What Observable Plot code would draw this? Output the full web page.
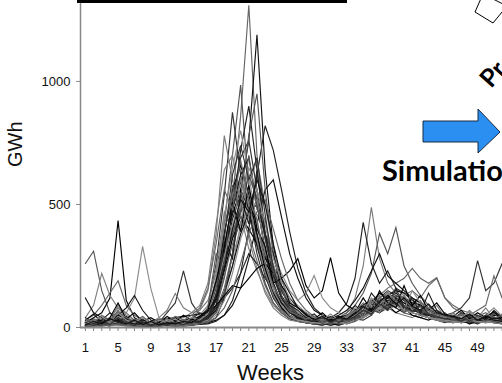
<!DOCTYPE html>
<html>
<head>
<meta charset="utf-8">
<script src="https://cdn.jsdelivr.net/npm/d3@7"></script>
<script src="https://cdn.jsdelivr.net/npm/@observablehq/plot@0.6"></script>
<style>
  html, body { margin: 0; padding: 0; background: #fff; }
  #wrap { position: relative; width: 502px; height: 383px; overflow: hidden; }
  #wrap svg.overlay { position: absolute; left: 0; top: 0; pointer-events: none; }
</style>
</head>
<body>
<div id="wrap"></div>
<script>
// ---- data: simulated weekly energy (GWh), one array per simulation run (weeks 1..52)
const run01 = [10,15,8,20,12,5,8,10,6,12,8,5,10,15,20,35, 90,250,520,860,1310,700,380,210,120,70,40,25, 20,15,10,18,25, 40,60,90,120,80,110,70,60,90,50,40,30, 25,30,20,35,40,30,25];
const run02 = [5,8,12,6,30,15,10,5,8,4,10,12,6,8,15,20, 40,120,300,560,760,1190,640,330,170,90,50,30, 20,25,15,10,20, 30,50,70,100,140,90,120,80,60,50,70,40, 30,20,45,30,25,60,40];
const run03 = [20,35,25,15,60,40,20,10,12,8,15,10,12,20,30,60, 180,420,700,985,560,420,260,150,80,45,30,20, 15,10,20,30,15, 25,45,80,60,90,150,110,70,60,40,35,50, 20,30,15,25,35,20,30];
const run04 = [8,10,15,12,25,20,10,8,15,10,12,8,15,25,40,80, 260,540,875,620,480,300,180,100,60,35,25,20, 15,12,18,10,20, 35,30,50,90,120,80,60,90,70,40,30,25, 35,20,30,15,45,25,20];
const run05 = [30,20,40,25,90,50,30,20,15,10,20,30,25,40,70,150, 380,780,600,460,320,230,150,90,60,40,30,25, 20,30,15,25,20, 40,55,70,100,80,60,50,40,60,80,50,35, 30,25,40,20,30,45,25];
const run06 = [5,6,8,10,15,8,6,5,4,6,8,5,6,10,12,15, 25,50,110,220,400,620,820,720,560,390,240,140, 80,50,35,25,20, 30,40,60,85,110,130,120,100,90,70,55,40, 30,25,20,25,30,20,15];
const run07 = [260,310,150,60,40,25,15,10,8,12,6,10,8,12,20,30, 70,160,300,480,620,520,300,180,100,60,40,30, 20,15,25,20,30, 50,80,110,90,70,100,60,50,40,60,45,30, 25,30,20,40,25,30,20];
const run08 = [20,40,60,120,435,110,40,20,12,8,10,12,15,20,30,50, 150,320,460,560,480,340,220,130,70,40,25,20, 15,20,10,15,25, 40,60,80,70,90,60,80,50,40,30,45,25, 20,35,15,25,20,30,25];
const run09 = [15,10,20,30,40,60,120,330,160,40,20,15,10,20,25,35, 60,130,250,420,580,680,500,310,170,90,50,30, 25,20,15,30,20, 30,50,60,90,120,160,130,90,70,60,40,30, 40,25,30,20,35,25,30];
const run10 = [10,12,8,15,20,10,8,12,15,20,60,100,230,100,50,70, 140,260,380,470,520,420,290,170,90,50,30,20, 15,10,20,15,25, 30,45,70,60,80,100,70,90,60,40,30,20, 30,20,25,15,30,20,25];
const run11 = [40,90,220,130,80,40,20,15,10,12,20,15,18,25,40,70, 200,390,540,610,500,360,230,140,80,50,35,25, 20,25,30,40,60, 120,250,488,280,180,140,110,90,70,60,40,30, 25,20,30,25,20,30,20];
const run12 = [12,10,15,20,35,25,12,10,8,10,12,10,15,20,25,45, 120,280,440,540,460,330,210,120,70,45,35,30, 25,30,40,60,100, 200,427,260,180,230,160,140,110,90,70,50,40, 30,25,35,20,25,30,20];
const run13 = [8,15,10,12,18,12,10,8,12,10,8,12,15,18,22,30, 80,200,370,500,620,530,360,210,120,70,45,30, 25,20,30,40,60, 90,140,220,382,300,406,250,180,130,90,60,40, 35,30,25,40,30,25,35];
const run14 = [20,15,25,30,50,35,20,15,12,10,15,20,25,30,45,60, 110,230,360,450,400,340,280,240,200,230,280,170, 120,150,284,140,90, 70,90,110,80,100,120,90,70,60,80,50,40, 30,35,25,30,40,25,30];
const run15 = [6,8,10,8,12,10,8,6,8,10,12,8,10,15,20,30, 60,150,290,400,480,460,380,300,220,150,110,140, 211,120,80,60,50, 60,80,100,140,120,100,130,90,70,60,50,40, 35,40,30,25,35,30,25];
const run16 = [10,12,15,10,20,15,12,10,8,10,12,15,10,20,30,50, 130,300,480,590,520,380,240,150,80,50,30,25, 20,15,20,25,30, 40,60,90,120,150,130,110,90,80,70,60,50, 60,80,120,272,150,180,260];
const run17 = [15,20,12,18,25,20,15,12,10,8,12,15,20,25,30,40, 90,210,340,430,480,420,310,200,120,70,40,30, 25,30,35,40,50, 60,80,110,130,160,180,200,240,200,180,203,120, 90,70,60,50,40,60,50];
const run18 = [5,8,6,10,12,8,6,5,6,8,10,8,10,12,15,20, 30,50,90,160,280,420,560,600,450,300,200,120, 70,50,40,30,35, 45,60,80,100,130,150,140,120,100,80,60,45, 40,30,35,45,30,25,30];
const run19 = [20,30,25,40,80,60,30,20,15,20,25,30,40,60,90,180, 420,640,700,520,360,240,140,80,50,30,25,20, 15,20,15,25,20, 30,40,60,80,100,90,70,60,50,40,30,25, 20,25,30,20,25,20,15];
const run20 = [10,15,20,25,30,20,15,10,12,15,20,25,30,35,40,50, 80,120,160,220,300,260,200,150,100,70,50,40, 30,25,30,35,40, 50,70,90,110,130,120,100,80,70,60,50,40, 35,30,40,35,30,40,35];
const run21 = [12,8,10,15,25,15,10,8,10,12,15,10,12,18,25,40, 160,380,560,660,540,380,240,140,80,50,30,20, 15,20,25,20,30, 40,70,100,140,120,90,80,70,90,60,40,30, 25,30,20,35,25,30,25];
const run22 = [8,10,12,8,15,10,8,12,10,8,10,12,8,10,15,25, 50,110,220,360,450,560,430,290,170,100,60,40, 30,25,20,30,35, 50,70,90,80,110,140,120,100,80,60,50,40, 35,25,30,40,30,35,25];
const run23 = [15,12,18,20,30,20,15,12,10,12,15,12,15,20,30,45, 130,320,520,690,760,560,360,210,120,70,40,30, 20,25,20,15,25, 40,60,80,100,90,110,80,70,60,50,40,30, 25,20,30,25,35,20,30];
const run24 = [30,50,90,140,190,90,50,30,20,15,12,15,20,25,40,70, 170,300,400,450,380,270,170,100,60,40,30,25, 20,25,15,20,30, 45,60,70,90,80,100,80,60,50,40,35,30, 25,30,35,25,20,25,20];
const run25 = [120,60,40,30,50,80,130,70,30,20,15,20,25,30,35,40, 70,140,250,380,470,500,380,250,150,90,55,35, 25,20,30,25,20, 35,50,80,110,90,120,100,80,70,50,40,30, 30,25,20,30,25,30,20];
const run26 = [10,15,12,18,20,15,10,12,20,40,70,138,80,60,70,110, 220,420,540,600,500,350,220,130,70,40,30,20, 15,20,25,20,15, 30,45,60,80,100,90,70,60,50,40,30,25, 20,25,30,20,25,20,25];
const run27 = [8,10,12,15,20,12,10,8,10,8,12,10,15,20,25,35, 90,240,480,720,900,640,380,220,120,70,40,30, 20,15,20,25,20, 30,50,70,90,110,100,80,70,60,50,40,30, 25,30,20,25,30,25,20];
const run28 = [5,8,6,10,15,10,8,6,8,10,8,6,10,12,18,25, 60,140,300,520,780,950,560,300,160,90,50,30, 20,18,15,20,25, 35,50,70,100,120,110,90,80,70,55,40,30, 30,25,35,20,30,25,30];
const run29 = [20,25,30,35,40,30,25,20,25,30,35,40,45,50,55,60, 90,130,170,160,200,240,260,220,170,120,80,60, 40,35,30,40,50, 70,90,110,100,120,140,120,100,90,70,60,50, 45,40,50,45,40,50,45];
const run30 = [10,12,8,15,25,15,10,8,12,10,15,12,18,25,35,60, 200,450,650,800,620,420,260,150,90,50,30,25, 20,15,25,20,18, 30,40,60,80,70,90,70,60,50,40,35,30, 25,20,30,25,20,30,20];
const run31 = [8,6,10,12,10,8,6,8,10,12,10,8,12,15,18,22, 40,80,150,260,380,470,520,400,280,180,110,70, 45,35,30,35,45, 60,80,100,120,140,110,130,150,120,170,200,120, 80,60,50,70,90,210,120];
const run32 = [15,12,10,20,30,25,15,12,10,12,15,20,18,22,30,50, 140,300,480,620,690,500,320,180,100,60,40,30, 25,30,35,50,70, 110,160,230,300,210,180,150,120,100,80,60,45, 40,35,30,40,35,30,25];
const run33 = [25,10,35,15,45,20,30,10,25,15,35,20,30,25,50,90, 240,470,390,610,450,520,300,260,140,110,60,45, 30,50,20,40,25, 70,40,110,60,150,90,130,70,110,60,90,40, 60,30,70,40,80,35,55];
const run34 = [40,15,30,60,20,45,15,35,10,30,15,40,20,35,60,40, 110,350,280,540,420,640,380,300,150,90,70,40, 55,25,45,20,40, 90,60,140,100,70,160,80,120,60,140,70,50, 35,60,25,50,30,70,40];
const run35 = [5,30,10,25,70,15,35,10,20,5,25,10,30,15,35,80, 300,250,580,460,700,480,440,220,160,70,50,30, 40,15,35,25,45, 30,90,50,110,80,130,60,100,50,80,40,60, 30,50,20,45,25,55,35];
const run36 = [30,55,20,40,100,35,60,25,40,20,45,25,50,30,45,70, 190,330,510,390,580,400,330,180,200,100,80,50, 35,60,30,45,35, 60,120,70,150,100,80,170,90,130,70,100,55, 45,70,35,60,40,65,30];
const run37 = [15,25,45,20,60,30,20,40,15,30,20,35,15,40,30,55, 150,290,420,500,650,560,420,280,190,120,90,60, 40,30,55,30,40, 80,60,120,90,140,110,70,150,100,80,60,45, 55,40,65,35,50,80,45];
const run38 = [20,8,25,12,40,18,8,22,10,18,8,20,12,28,18,45, 130,360,620,740,600,690,460,240,130,80,45,35, 25,40,20,35,30, 45,70,55,95,75,115,85,65,90,55,45,35, 40,25,45,30,50,40,30];
const run39 = [35,20,50,30,65,40,25,45,20,35,25,45,30,50,80,160, 340,560,480,680,520,440,260,170,110,65,50,35, 45,25,40,30,50, 65,100,80,125,95,145,115,80,105,70,55,45, 35,55,30,45,60,35,50];
const run40 = [10,25,15,35,25,15,30,12,25,10,20,15,25,20,40,65, 120,240,400,520,470,600,500,340,200,140,80,55, 30,45,25,40,35, 55,85,65,105,130,95,120,85,70,95,60,50, 45,35,55,30,45,35,40];

const runs = [run01,run02,run03,run04,run05,run06,run07,run08,run09,run10,run11,run12,run13,run14,run15,run16,
              run17,run18,run19,run20,run21,run22,run23,run24,run25,run26,run27,run28,run29,run30,run31,run32,
              run33,run34,run35,run36,run37,run38,run39,run40];

// axis ticks
const weekTicks = d3.range(1, 53);
const weekLabels = [1,5,9,13,17,21,25,29,33,37,41,45,49];
const gwhTicks = [0, 500, 1000];

const rows = runs.flatMap((vals, i) => vals.map((v, j) => ({run: "r" + i, week: j + 1, gwh: v})));

const palette = ["#666666","#111111","#7d7d7d","#222222","#555555","#000000","#8c8c8c","#333333"];

const xDomain = [0.4, 52.05];
const yDomain = [0, 1329];

const chart = Plot.plot({
  width: 502,
  height: 383,
  marginLeft: 80,
  marginRight: 0,
  marginTop: 0,
  marginBottom: 56,
  style: {fontFamily: "Liberation Sans, Arial, sans-serif", background: "#fff", overflow: "visible"},
  x: {domain: xDomain},
  y: {domain: yDomain},
  color: {type: "ordinal", range: palette},
  marks: [
    Plot.line(rows, {x: "week", y: "gwh", z: "run", stroke: "run", strokeWidth: 1.15, strokeLinejoin: "miter", strokeMiterlimit: 4}),
    Plot.ruleX([xDomain[0]], {stroke: "#888", strokeWidth: 1.5}),
    Plot.ruleY([0], {stroke: "#888", strokeWidth: 2}),
    Plot.axisY({ticks: gwhTicks, tickSize: 4, tickPadding: 6, fontSize: 13, stroke: "#888", fill: "#111",
                tickFormat: d => String(d), label: null}),
    Plot.axisX({ticks: weekTicks, tickSize: 4, tickPadding: 11, fontSize: 13, stroke: "#888", fill: "#111",
                tickFormat: d => weekLabels.includes(d) ? String(d) : "", label: null}),
    Plot.text(["GWh"], {frameAnchor: "left", lineAnchor: "middle", dx: -65, dy: 3, rotate: -90, fontSize: 20, fill: "#111"}),
    Plot.text(["Weeks"], {frameAnchor: "bottom", lineAnchor: "middle", dx: -21, dy: 45, fontSize: 22, fill: "#111"})
  ]
});

const wrap = document.getElementById("wrap");
wrap.appendChild(chart);

// decorative fragments of the surrounding figure
const ns = "http://www.w3.org/2000/svg";
const ov = document.createElementNS(ns, "svg");
ov.setAttribute("class", "overlay");
ov.setAttribute("width", 502);
ov.setAttribute("height", 383);
ov.innerHTML = `
  <rect x="77" y="0" width="270" height="3" fill="#000"/>
  <polygon points="483,-6 475,12 493,23 507,6" fill="#fff" stroke="#000" stroke-width="1"/>
  <text x="491" y="89" transform="rotate(-48 491 89)" font-family="Lato, 'Open Sans', sans-serif" font-weight="bold" font-size="25" fill="#000">Pr</text>
  <polygon points="423,121 478,121 478,109 500,132 478,153 478,142 423,142" fill="#2a8ff0" stroke="#1a2a40" stroke-width="1"/>
  <text x="382" y="181" font-family="Lato, 'Open Sans', sans-serif" font-weight="bold" font-size="29" fill="#000">Simulation</text>
`;
wrap.appendChild(ov);
</script>
</body>
</html>
